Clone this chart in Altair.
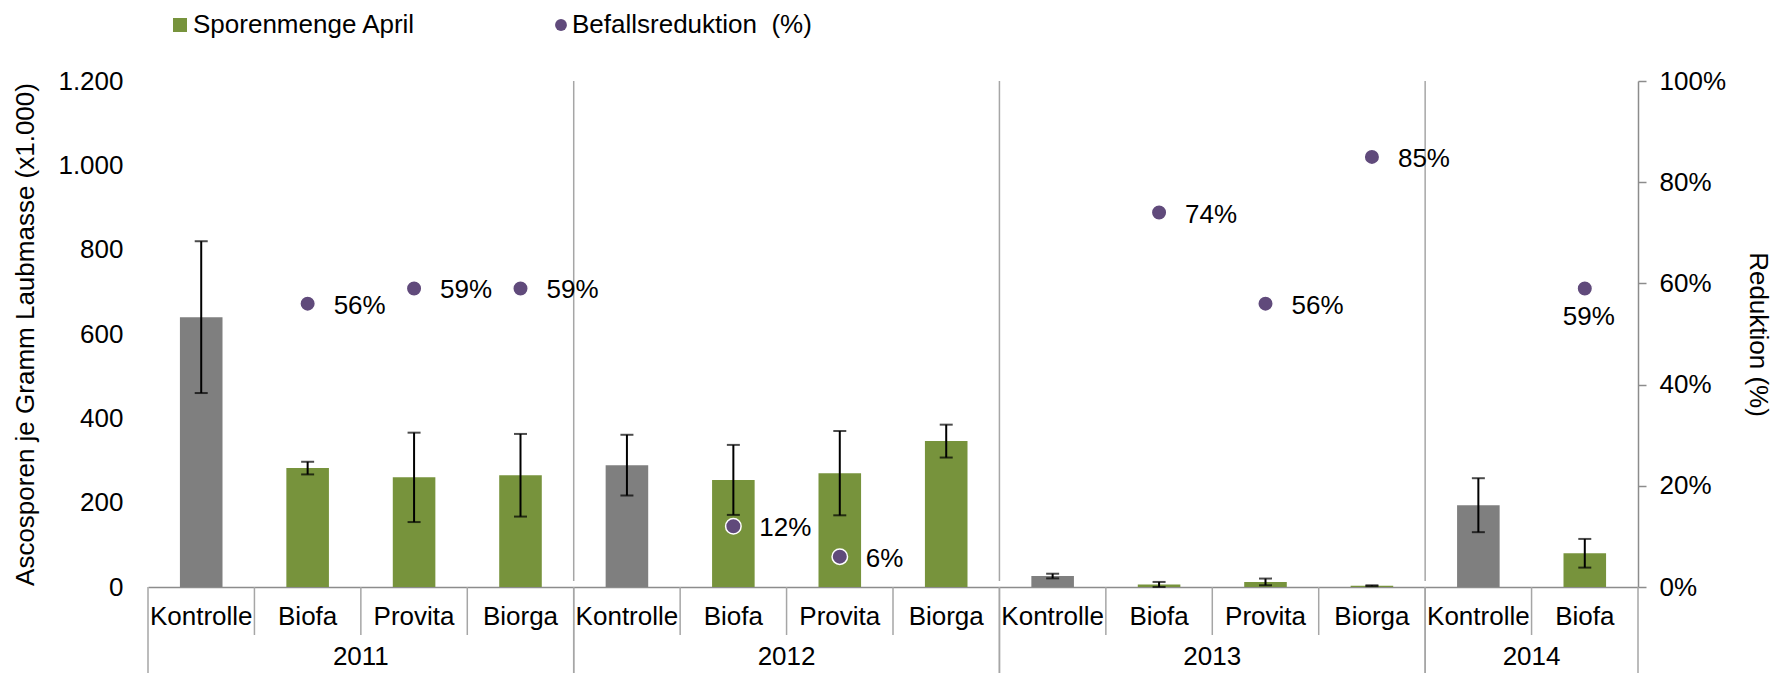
import altair as alt
import pandas as pd

# ---- data ----
years = ["2011"] * 4 + ["2012"] * 4 + ["2013"] * 4 + ["2014"] * 2
treatments = ["Kontrolle", "Biofa", "Provita", "Biorga",
              "Kontrolle", "Biofa", "Provita", "Biorga",
              "Kontrolle", "Biofa", "Provita", "Biorga",
              "Kontrolle", "Biofa"]
spores = [640, 282, 260, 265, 289, 254, 270, 346, 26, 6, 12, 3, 194, 80]
spore_err = [180, 15, 106, 98, 72, 83, 100, 39, 5.5, 6, 8, 1, 64, 34]
reduction = [None, 56, 59, 59, None, 12, 6, None, None, 74, 56, 85, None, 59]
left_ticks = [0, 200, 400, 600, 800, 1000, 1200]
right_ticks = [0, 20, 40, 60, 80, 100]
legend_labels = ["Sporenmenge April", "Befallsreduktion\u00a0 (%)"]

GREEN = "#77933C"
GREY = "#7F7F7F"
PURPLE = "#604A7B"
LINE = "#8C8C8C"
SEP = "#A6A6A6"
FONT = "Liberation Sans"
FS = 26

W, H = 1490, 506

df = pd.DataFrame({
    "idx": list(range(len(treatments))),
    "year": years,
    "treat": treatments,
    "spores": spores,
    "err": spore_err,
    "red": reduction,
})

base = alt.Chart(df).transform_calculate(
    cx="datum.idx + 0.5",
    x0="datum.idx + 0.3",
    x1="datum.idx + 0.7",
    lo="max(0, datum.spores - datum.err)",
    hi="datum.spores + datum.err",
)

xscale = alt.Scale(domain=[0, len(treatments)], nice=False, zero=False)
yl_scale = alt.Scale(domain=[0, 1200], nice=False)
yr_scale = alt.Scale(domain=[0, 100], nice=False)

X_AXIS = alt.Axis(labels=False, ticks=False, grid=False, title=None,
                  domain=True, domainColor=LINE, domainWidth=1.5)
YL_AXIS = alt.Axis(values=left_ticks,
                   labelExpr="replace(format(datum.value, ','), ',', '.')",
                   ticks=False, domain=False, grid=False,
                   labelFontSize=FS, labelPadding=25, labelColor="black",
                   title="Ascosporen je Gramm Laubmasse (x1.000)",
                   titleFontSize=FS, titleFontWeight="normal",
                   titleColor="black",
                   titleAngle=270, titleX=-123, titleY=H / 2,
                   titleAlign="center", titleBaseline="middle")
YR_AXIS = alt.Axis(orient="right", values=right_ticks,
                   labelExpr="datum.value + '%'",
                   ticks=True, tickSize=8, tickColor=LINE, tickWidth=1.5,
                   domain=True, domainColor=LINE, domainWidth=1.5,
                   grid=False, labelFontSize=FS, labelPadding=13,
                   labelColor="black",
                   title="Reduktion (%)", titleFontSize=FS,
                   titleFontWeight="normal", titleColor="black",
                   titleAngle=90, titleX=119, titleY=H / 2,
                   titleAlign="center", titleBaseline="middle")


def X(field):
    return alt.X(field, scale=xscale, axis=X_AXIS)


def YL(field):
    return alt.Y(field, scale=yl_scale, axis=YL_AXIS)


def YR(field):
    return alt.Y(field, scale=yr_scale, axis=YR_AXIS)


bars = base.mark_bar().encode(
    x=X("x0:Q"),
    x2="x1:Q",
    y=YL("spores:Q"),
    y2=alt.datum(0),
    color=alt.condition(alt.datum.treat == "Kontrolle",
                        alt.value(GREY), alt.value(GREEN)),
)

err_rule = base.mark_rule(color="black", strokeWidth=2).encode(
    x=X("cx:Q"), y=YL("lo:Q"), y2="hi:Q",
)
cap_lo = base.mark_tick(orient="horizontal", size=13, thickness=2,
                        color="black").encode(x=X("cx:Q"), y=YL("lo:Q"))
cap_hi = base.mark_tick(orient="horizontal", size=13, thickness=2,
                        color="black").encode(x=X("cx:Q"), y=YL("hi:Q"))

left = alt.layer(bars, err_rule, cap_lo, cap_hi)

pts_base = base.transform_filter("isValid(datum.red)").transform_calculate(
    lab="datum.red + '%'")

points = pts_base.mark_circle(size=240, color=PURPLE, opacity=1,
                              stroke="white", strokeWidth=1.5).encode(
    x=X("cx:Q"), y=YR("red:Q"),
)
labels_side = pts_base.transform_filter("datum.year != '2014'").mark_text(
    align="left", baseline="middle", dx=26, dy=2, fontSize=FS, color="black"
).encode(x=X("cx:Q"), y=YR("red:Q"), text="lab:N")
labels_below = pts_base.transform_filter("datum.year == '2014'").mark_text(
    align="center", baseline="middle", dx=4, dy=29, fontSize=FS, color="black"
).encode(x=X("cx:Q"), y=YR("red:Q"), text="lab:N")

right = alt.layer(points, labels_side, labels_below)

# category labels and separators below the axis
cat_text = base.mark_text(fontSize=FS, baseline="middle", align="center",
                          color="black").encode(
    x=X("cx:Q"), y=alt.value(536), text="treat:N",
)
short_sep = base.transform_filter("datum.treat != 'Kontrolle'").mark_rule(
    color=SEP, strokeWidth=1.5).encode(
    x=X("idx:Q"), y=alt.value(H), y2=alt.value(554),
)

bounds = base.transform_aggregate(
    start="min(idx)", last="max(idx)", cmid="mean(cx)", groupby=["year"]
).transform_calculate(end="datum.last + 1")

year_text = bounds.mark_text(fontSize=FS, baseline="middle", align="center",
                             color="black").encode(
    x=X("cmid:Q"), y=alt.value(576), text="year:N",
)
year_sep_bottom_start = bounds.mark_rule(color=SEP, strokeWidth=1.5).encode(
    x=X("start:Q"), y=alt.value(H), y2=alt.value(620),
)
year_sep_bottom_end = bounds.mark_rule(color=SEP, strokeWidth=1.5).encode(
    x=X("end:Q"), y=alt.value(H), y2=alt.value(620),
)
year_sep_top = bounds.transform_filter("datum.start > 0").mark_rule(
    color=SEP, strokeWidth=1.5).encode(
    x=X("start:Q"), y=alt.value(0), y2=alt.value(H - 6),
)

# legend
LEG_Y = -56
leg1 = pd.DataFrame({"t": [legend_labels[0]]})
leg2 = pd.DataFrame({"t": [legend_labels[1]]})
leg_sq = alt.Chart(leg1).mark_square(size=196, color=GREEN, opacity=1).encode(
    x=alt.value(32), y=alt.value(LEG_Y))
leg_sq_t = alt.Chart(leg1).mark_text(align="left", baseline="middle",
                                     fontSize=FS, color="black").encode(
    x=alt.value(45), y=alt.value(LEG_Y), text="t:N")
leg_pt = alt.Chart(leg2).mark_circle(size=140, color=PURPLE, opacity=1).encode(
    x=alt.value(413), y=alt.value(LEG_Y))
leg_pt_t = alt.Chart(leg2).mark_text(align="left", baseline="middle",
                                     fontSize=FS, color="black").encode(
    x=alt.value(424), y=alt.value(LEG_Y), text="t:N")

chart = alt.layer(
    year_sep_top, year_sep_bottom_start, year_sep_bottom_end, short_sep,
    left, right,
    cat_text, year_text,
    leg_sq, leg_sq_t, leg_pt, leg_pt_t,
).resolve_scale(y="independent").properties(
    width=W, height=H,
    autosize=alt.AutoSizeParams(type="none"),
    padding={"left": 140, "top": 73, "right": 134, "bottom": 86},
).configure(font=FONT).configure_view(strokeWidth=0)

chart.save("out.html", embed_options={"renderer": "svg", "actions": False})
